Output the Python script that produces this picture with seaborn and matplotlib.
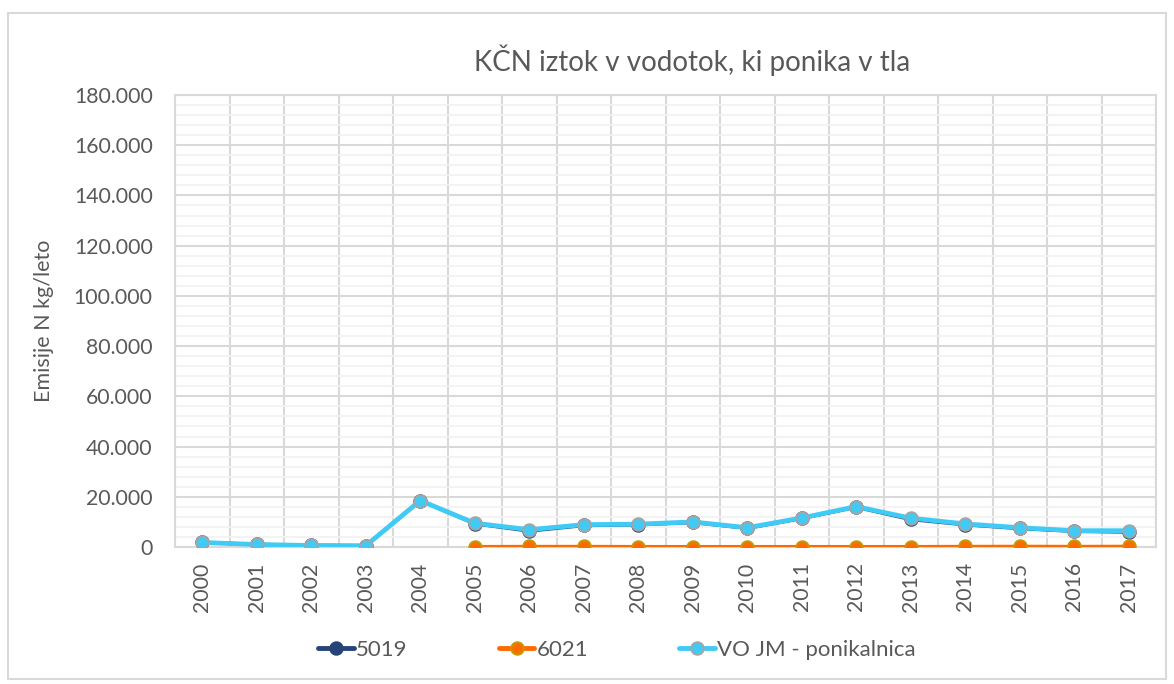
import numpy as np
import pandas as pd
import matplotlib.pyplot as plt
import matplotlib.ticker as mticker
from matplotlib.lines import Line2D
from matplotlib.patches import Rectangle
import seaborn as sns

# data
YEARS = list(range(2000, 2018))
S5019 = [1800, 1000, 600, 500, 18500, 9300, 6400, 8600, 8900, 9800, 7500, 11400,
         15900, 11000, 8900, 7400, 6300, 6000]
S6021 = [np.nan] * 5 + [150, 200, 200, 150, 150, 150, 150, 150, 150, 200, 250, 200, 250]
VOJM = [1800, 1000, 600, 500, 18500, 9500, 6900, 8900, 9100, 10000, 7700, 11600,
        16100, 11500, 9200, 7700, 6500, 6500]

NAMES = ['5019', '6021', 'VO JM - ponikalnica']
COLORS = ['#264478', '#FF6A00', '#3FCBF5']
EDGES = ['#264478', '#C59B00', '#A5A5A5']

sns.set_style('white')
plt.rcParams['font.family'] = ['Lato', 'DejaVu Sans']

df = pd.DataFrame({'year': YEARS, NAMES[0]: S5019, NAMES[1]: S6021, NAMES[2]: VOJM})

fig = plt.figure(figsize=(11.74, 6.84), dpi=100)
ax = fig.add_axes([175 / 1174, 1 - 547 / 684, (1156 - 175) / 1174, (547 - 95) / 684])

widths = [2.6, 2.4, 3.4]
for name, col, ec, lw in zip(NAMES, COLORS, EDGES, widths):
    sub = df[['year', name]].dropna()
    sns.lineplot(data=sub, x='year', y=name, ax=ax, color=col, lw=lw,
                 marker='o', markersize=9, markerfacecolor=col,
                 markeredgecolor=ec, markeredgewidth=1.4, zorder=3)

ax.set_xlim(YEARS[0] - 0.5, YEARS[-1] + 0.5)
ax.set_ylim(0, 180000)
ax.set_xticks(YEARS)
ax.set_xticklabels([str(y) for y in YEARS], rotation=90)
ax.set_xticks(np.arange(YEARS[0] - 0.5, YEARS[-1] + 1, 1), minor=True)
ax.yaxis.set_major_locator(mticker.MultipleLocator(20000))
ax.yaxis.set_minor_locator(mticker.MultipleLocator(4000))
ax.yaxis.set_major_formatter(mticker.FuncFormatter(lambda v, _: f'{v:,.0f}'.replace(',', '.')))

ax.grid(False)
ax.grid(axis='y', which='minor', color='#F2F2F2', lw=1.3, zorder=0)
ax.grid(axis='y', which='major', color='#D9D9D9', lw=1.5, zorder=0)
ax.grid(axis='x', which='minor', color='#D9D9D9', lw=1.5, zorder=0)
ax.set_axisbelow(True)
for sp in ax.spines.values():
    sp.set_color('#D9D9D9')
    sp.set_linewidth(1.5)
ax.tick_params(which='both', length=0, labelsize=15.3, colors='#595959')
ax.tick_params(axis='y', pad=16)
ax.tick_params(axis='x', pad=11)

ax.set_xlabel('')
ax.set_ylabel('Emisije N kg/leto', fontsize=15.5, color='#595959', labelpad=14)
fig.text(692 / 1174, 1 - 60 / 684, 'KČN iztok v vodotok, ki ponika v tla',
         ha='center', va='center', fontsize=20, color='#595959')

handles = [Line2D([], [], color=c, lw=3.5, marker='o', markersize=9,
                  markerfacecolor=c, markeredgecolor=e, markeredgewidth=1.4)
           for c, e in zip(COLORS, EDGES)]
fig.legend(handles, NAMES, loc='center', bbox_to_anchor=(617 / 1174, 1 - 650 / 684),
           ncol=3, frameon=False, fontsize=16, handlelength=1.6, handletextpad=0.1,
           columnspacing=4.1, labelcolor='#595959')

fig.patches.append(Rectangle((8 / 1174, 1 - 679 / 684), (1166 - 8) / 1174, (679 - 13) / 684,
                             transform=fig.transFigure, fill=False, edgecolor='#D9D9D9', lw=1.5))

fig.savefig('out.png', dpi=100)
